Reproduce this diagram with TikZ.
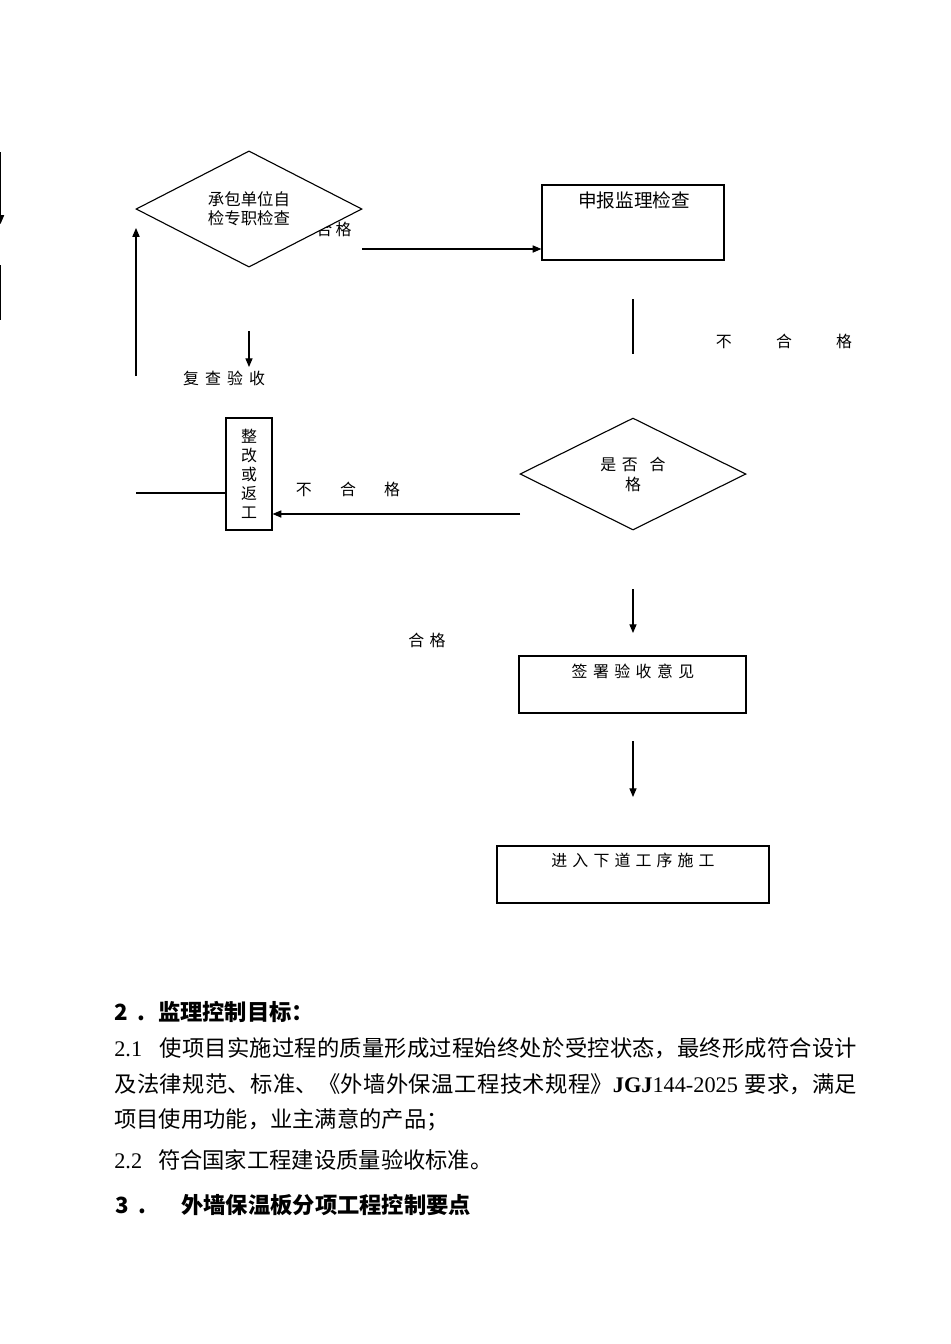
\documentclass[tikz,border=0pt]{standalone}
\usepackage{fontspec}
\setmainfont{Liberation Serif}
\newfontfamily\cjk{Noto Sans CJK SC}
\usetikzlibrary{shapes.geometric, arrows.meta}

\XeTeXlinebreaklocale "zh"
\XeTeXlinebreakskip=0pt plus 1pt

\tikzset{
  flowline/.style={line width=0.7pt},
  arr/.style={flowline, -{Triangle[length=5.5pt,width=4.5pt]}},
  box/.style={draw, flowline, inner sep=0pt},
  decision/.style={draw, flowline, diamond, inner sep=0pt, align=center},
  lbl/.style={inner sep=0pt, font=\cjk\fontsize{10}{11.9}\selectfont},
  para/.style={anchor=west, inner sep=0pt, font=\fontsize{14}{16.8}\selectfont},
  head/.style={para, font=\cjk\bfseries\fontsize{14}{16.8}\selectfont},
}

\begin{document}
\begin{tikzpicture}[x=0.628pt, y=-0.628pt]
    \useasboundingbox (0,0) rectangle (950,1344);

    % arrows cut at the left edge
    \coordinate (edgeatop) at (0.5,152);
    \coordinate (edgeabot) at (0.5,224);
    \coordinate (edgebtop) at (0.5,265);
    \coordinate (edgebbot) at (0.5,320);
    \draw[arr] (edgeatop) -- (edgeabot);
    \draw[flowline] (edgebtop) -- (edgebbot);

    % self check by the contractor
    \node[lbl] (passtop) at (334,229) {合\hspace{2pt}格};
    \node[decision, fill=white, minimum width=141.9pt, minimum height=70.3pt,
          font=\cjk\fontsize{10.3}{11.9}\selectfont] (selfcheck) at (249,209) {承包单位自\\检专职检查};

    % report to the supervisor
    \node[box, minimum width=114.3pt, minimum height=47.1pt] (report) at (633,222.5) {};
    \node[lbl, font=\cjk\fontsize{11.7}{14}\selectfont] (reporttext) at (634,200) {申报监理检查};
    \coordinate (passstart) at (362,249);
    \draw[arr] (passstart) -- (passstart -| report.west);

    \coordinate (reportlinetop) at (633,299);
    \coordinate (reportlinebot) at (633,354);
    \draw[flowline] (reportlinetop) -- (reportlinebot);
    \node[lbl] (failright) at (784,341) {不\hspace{27.8pt}合\hspace{27.8pt}格};

    % decision
    \node[decision, minimum width=141.9pt, minimum height=70.3pt,
          font=\cjk\fontsize{10}{12.6}\selectfont] (decide) at (633,474) {是\hspace{3.5pt}否\hspace{7.5pt}合\\格};

    % rework loop
    \node[box, lbl, draw, minimum width=28.9pt, minimum height=70.3pt, align=center] (rework) at (249,474) {整\\改\\或\\返\\工};
    \coordinate (failstart) at (520,514);
    \draw[arr] (failstart) -- (failstart -| rework.east);
    \node[lbl] (failmid) at (348,489) {不\hspace{17.7pt}合\hspace{17.7pt}格};

    \coordinate (backstart) at (136,493);
    \draw[flowline] (backstart) -- (backstart -| rework.west);
    \coordinate (upstart) at (136,376);
    \coordinate (upend) at (136,228);
    \draw[arr] (upstart) -- (upend);

    \coordinate (downstart) at (249,331);
    \coordinate (downend) at (249,367);
    \draw[arr] (downstart) -- (downend);
    \node[lbl] (recheck) at (224,378) {复\hspace{3.8pt}查\hspace{3.8pt}验\hspace{3.8pt}收};

    % accepted
    \coordinate (passdownstart) at (633,589);
    \coordinate (passdownend) at (633,633);
    \draw[arr] (passdownstart) -- (passdownend);
    \node[lbl] (passmid) at (427,640) {合\hspace{3.3pt}格};

    \node[box, minimum width=142.6pt, minimum height=35.8pt] (sign) at (632.5,684.5) {};
    \node[lbl] (signtext) at (633,671) {签\hspace{3.4pt}署\hspace{3.4pt}验\hspace{3.4pt}收\hspace{3.4pt}意\hspace{3.4pt}见};

    \coordinate (nextstart) at (633,741);
    \coordinate (nextend) at (633,797);
    \draw[arr] (nextstart) -- (nextend);

    \node[box, minimum width=170.8pt, minimum height=35.8pt] (proceed) at (633,874.5) {};
    \node[lbl] (proceedtext) at (633,860) {进\hspace{3.2pt}入\hspace{3.2pt}下\hspace{3.2pt}道\hspace{3.2pt}工\hspace{3.2pt}序\hspace{3.2pt}施\hspace{3.2pt}工};

    % text below the chart
    \node[head] (goalhead) at (114,1012) {2\hspace{6pt}.\hspace{8pt}监理控制目标：};
    \node[para] (goalone) at (114,1048)
        {\parbox{466.6pt}{\parfillskip=0pt\relax 2.1\hspace{11pt}{\cjk 使项目实施过程的质量形成过程始终处於受控状态，最终形成符合设计}}};
    \node[para] (goaltwo) at (114,1084)
        {\parbox{466.6pt}{\parfillskip=0pt\relax {\cjk 及法律规范、标准、《外墙外保温工程技术规程》}\textbf{JGJ}144-2025 {\cjk 要求，满足}}};
    \node[para] (goalthree) at (114,1120) {\cjk 项目使用功能，业主满意的产品；};
    \node[para] (goalfour) at (114,1160) {2.2\hspace{10pt}{\cjk 符合国家工程建设质量验收标准。}};
    \node[head] (pointshead) at (115,1205) {3\hspace{6pt}.\hspace{22pt}外墙保温板分项工程控制要点};
\end{tikzpicture}
\end{document}
